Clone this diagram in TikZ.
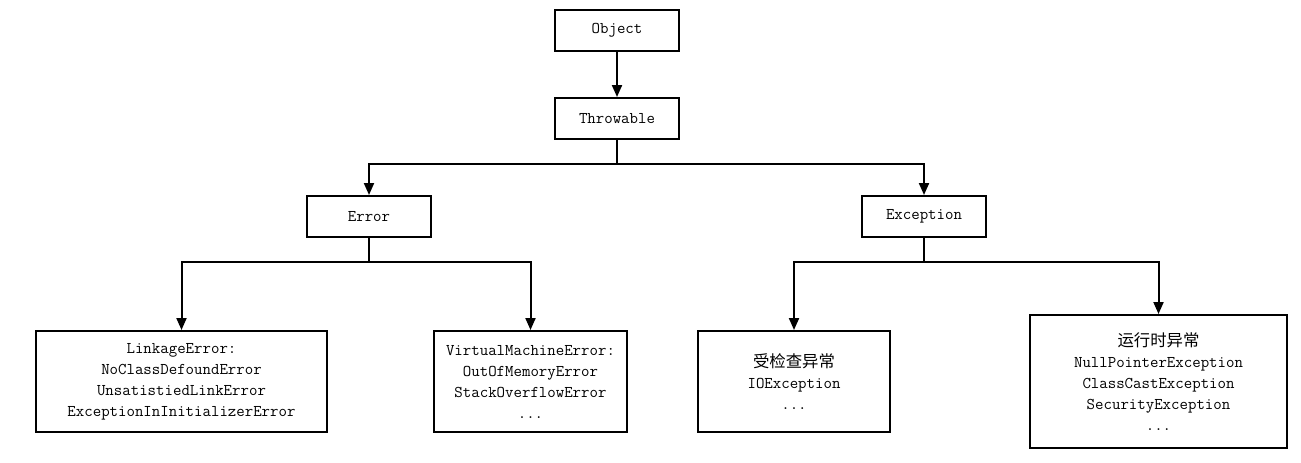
\documentclass[tikz,border=0pt]{standalone}
\usepackage{fontspec}
\newfontfamily\cjk{Noto Sans CJK SC}
\usepackage{tikz}
\usetikzlibrary{arrows.meta}

\begin{document}
\begin{tikzpicture}[x=0.75pt,y=0.75pt,yscale=-1,xscale=1,
	cls/.style={draw,line width=1.5,inner sep=0pt,align=center,font=\ttfamily\fontsize{12.3}{15.75}\selectfont},
	arr/.style={draw,line width=1.5,-{Triangle[length=9pt,width=7.5pt]}}]
	\useasboundingbox (0,0) rectangle (1301,462);
	
	% top of the tree
	\draw (617,30.5) node [cls,minimum width=93pt,minimum height=30.75pt] (object) {Object};
	\draw (617,118.5) node [cls,minimum width=93pt,minimum height=30.75pt] (throwable) {Throwable};
	
	% second level
	\draw (369,216.5) node [cls,minimum width=93pt,minimum height=30.75pt] (error) {Error};
	\draw (924,216.5) node [cls,minimum width=93pt,minimum height=30.75pt] (exception) {Exception};
	
	% leaves
	\draw (181.5,381.5) node [cls,minimum width=218.25pt,minimum height=75.75pt] (linkage) {LinkageError:\\NoClassDefoundError\\UnsatistiedLinkError\\ExceptionInInitializerError};
	\draw (530.5,381.5) node [cls,minimum width=144.75pt,minimum height=75.75pt] (vmerror) {VirtualMachineError:\\OutOfMemoryError\\StackOverflowError\\...};
	\draw (794,381.5) node [cls,minimum width=144pt,minimum height=75.75pt] (checked) {{\cjk 受检查异常}\\IOException\\...};
	\draw (1158.5,381.5) node [cls,minimum width=192.75pt,minimum height=99.75pt] (runtime) {{\cjk 运行时异常}\\NullPointerException\\ClassCastException\\SecurityException\\...};
	
	% connectors
	\draw [arr] (object.south) -- (throwable.north);
	\draw [arr] (throwable.south) -- ++(0,23.5) -| (error.north);
	\draw [arr] (throwable.south) -- ++(0,23.5) -| (exception.north);
	\draw [arr] (error.south) -- ++(0,24) -| (linkage.north);
	\draw [arr] (error.south) -- ++(0,24) -| (vmerror.north);
	\draw [arr] (exception.south) -- ++(0,24) -| (checked.north);
	\draw [arr] (exception.south) -- ++(0,24) -| (runtime.north);
\end{tikzpicture}
\end{document}
